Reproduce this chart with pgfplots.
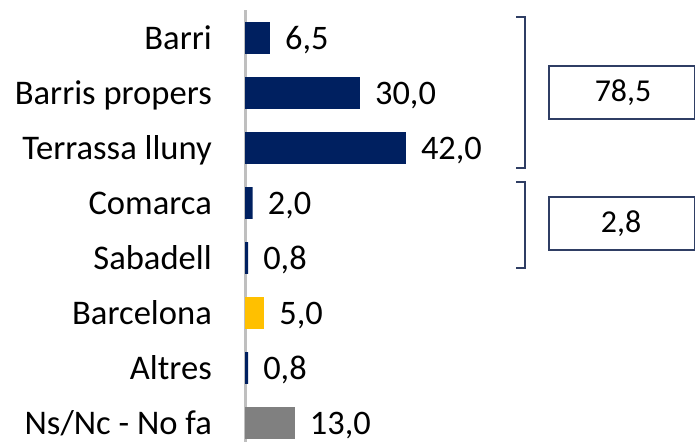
\documentclass[border=0pt]{standalone}
\usepackage{pgfplots}
\pgfplotsset{compat=1.18}
\usepackage{fontspec}
\setmainfont{Carlito}
\definecolor{navy}{RGB}{0,32,96}
\definecolor{gold}{RGB}{255,192,0}
\definecolor{midgray}{RGB}{128,128,128}
\definecolor{axgray}{RGB}{191,191,191}
\definecolor{brk}{RGB}{47,62,100}
\begin{document}
\fontsize{34.7}{40}\selectfont
\begin{tikzpicture}
\path[use as bounding box] (0,0) rectangle (695bp,442bp);
\begin{axis}[
 at={(245bp,0bp)}, anchor=south west,
 scale only axis, width=450bp, height=432bp,
 xbar, bar width=0.58,
 xmin=0, xmax=117.5,
 ymin=-0.509, ymax=7.345, y dir=reverse,
 axis x line=none, axis y line=left,
 y axis line style={draw=axgray, line width=3bp, -},
 ytick={0,...,7},
 yticklabels={Barri, Barris propers, Terrassa lluny, Comarca, Sabadell, Barcelona, Altres, Ns/Nc - No fa},
 major tick length=0pt,
 yticklabel style={anchor=base east, inner sep=0pt, xshift=-33bp, yshift=-11.2bp, font=\fontsize{34.7}{40}\selectfont},
 point meta=x,
 nodes near coords={\pgfmathprintnumber[fixed,fixed zerofill,precision=1,use comma]{\pgfplotspointmeta}},
 nodes near coords style={anchor=base west, inner sep=0pt, xshift=15bp, yshift=-11bp, font=\fontsize{34.5}{40}\selectfont, text=black},
 /pgf/number format/assume math mode=true,
 clip=false,
]
\addplot[fill=navy, draw=none, bar shift=0pt] coordinates {(6.5,0) (30,1) (42,2) (2,3) (0.8,4) (0.8,6)};
\addplot[fill=gold, draw=none, bar shift=0pt] coordinates {(5,5)};
\addplot[fill=midgray, draw=none, bar shift=0pt] coordinates {(13,7)};
\end{axis}
\draw[brk, line width=1.2bp] (516bp,425bp) -- (525bp,425bp) -- (525bp,274bp) -- (516bp,274bp);
\draw[brk, line width=1.2bp] (516bp,260bp) -- (525bp,260bp) -- (525bp,174bp) -- (516bp,174bp);
\draw[brk, line width=1.2bp] (549bp,323bp) rectangle (694.4bp,376bp);
\draw[brk, line width=1.2bp] (549bp,192bp) rectangle (694.4bp,245bp);
\node[font=\fontsize{32}{36}\selectfont] at (623bp,349.5bp) {78,5};
\node[font=\fontsize{32}{36}\selectfont] at (621bp,218.5bp) {2,8};
\end{tikzpicture}
\end{document}
